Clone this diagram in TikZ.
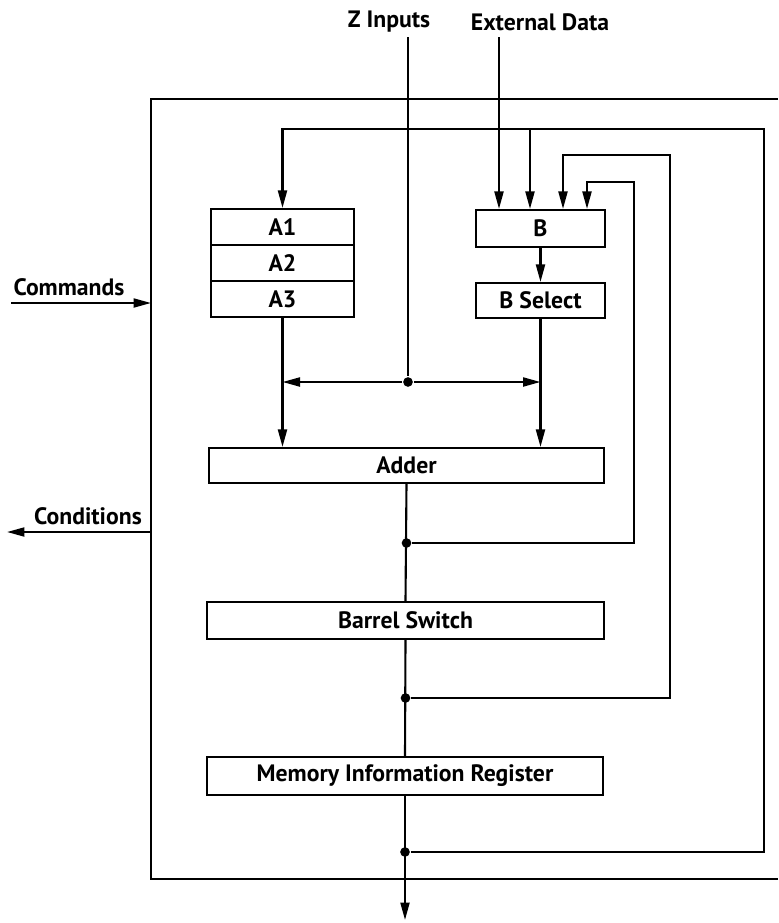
\documentclass[tikz,border=0pt]{standalone}
\usepackage{fontspec}
\setmainfont{PT Sans}
\usetikzlibrary{arrows.meta, positioning, calc}

\begin{document}
\begin{tikzpicture}[
      x=0.02cm, y=-0.02cm,
      font=\bfseries\fontsize{13.5}{16}\selectfont,
      line width=1.2pt,
      block/.style={draw, line width=1.2pt, inner sep=0pt, minimum height=0.72cm},
      dot/.style={circle, fill, inner sep=0pt, minimum size=5.5pt},
      >={Triangle[length=3.5mm, width=1.8mm]}
    ]
      \useasboundingbox (0,0) rectangle (778,923);
      % outer frame, cut off on the right
      \draw (778,99) -- (151,99) -- (151,879) -- (778,879);

      \node[block, minimum width=2.86cm] (A1) at (282.5,227) {A1};
      \node[block, minimum width=2.86cm, below=-1.2pt of A1] (A2) {A2};
      \node[block, minimum width=2.86cm, below=-1.2pt of A2] (A3) {A3};
      \node[block, minimum width=2.58cm, minimum height=0.74cm] (B) at (540.5,228.5) {B};
      \node[block, minimum width=2.58cm, minimum height=0.70cm] (bsel) at (540.5,300.5) {B Select};
      \node[block, minimum width=7.9cm, minimum height=0.70cm] (adder) at (406.5,465.5) {Adder};
      \node[block, minimum width=7.94cm, minimum height=0.74cm] (barrel) at (405.5,620.5) {Barrel Switch};
      \node[block, minimum width=7.92cm, minimum height=0.76cm] (mir) at (405,776) {Memory Information Register};

      \node (zlab) at (389,22) {Z Inputs};
      \node (extlab) at (540,22) {External Data};
      \node (cmdlab) at (69,287) {Commands};
      \node (condlab) at (88,516) {Conditions};

      \coordinate (zin) at (408,37);
      \coordinate (extin) at (499,37);
      \coordinate (cmdin) at (11,303);
      \coordinate (condout) at (7,532);
      \coordinate (out) at (405,920);
      \node[dot] (zdot) at (408,382) {};
      \node[dot] (adot) at (adder.south |- 0,543) {};
      \node[dot] (bdot) at (barrel.south |- 0,698) {};
      \node[dot] (mdot) at (mir.south |- 0,852) {};

      \draw[->] (cmdin) -- (cmdin -| 151,0);
      \draw[->] (condout -| 151,0) -- (condout);
      \draw (zin) -- (zdot);
      \draw[->] (zdot) -- (A3.south |- zdot);
      \draw[->] (zdot) -- (bsel.south |- zdot);
      \draw[->] (A3.south) -- (A3.south |- adder.north);
      \draw[->] (bsel.south) -- (bsel.south |- adder.north);
      \draw[->] (extin) -- (extin |- B.north);
      \draw[->] (B) -- (bsel);
      \draw (adder.south) -- (barrel.north);
      \draw (barrel.south) -- (mir.north);
      \draw[->] (mir.south) -- (out);

      \draw[->] (adot) -- (634,543) -- (634,182) -- (587,182) -- (587,0 |- B.north);
      \draw[->] (bdot) -- (670,698) -- (670,155) -- (563,155) -- (563,0 |- B.north);
      \draw[->] (mdot) -- (764,852) -- (764,129) -- (A1.north |- 0,129) -- (A1.north);
      \draw[->] (530,129) -- (530,0 |- B.north);
    \end{tikzpicture}
\end{document}
